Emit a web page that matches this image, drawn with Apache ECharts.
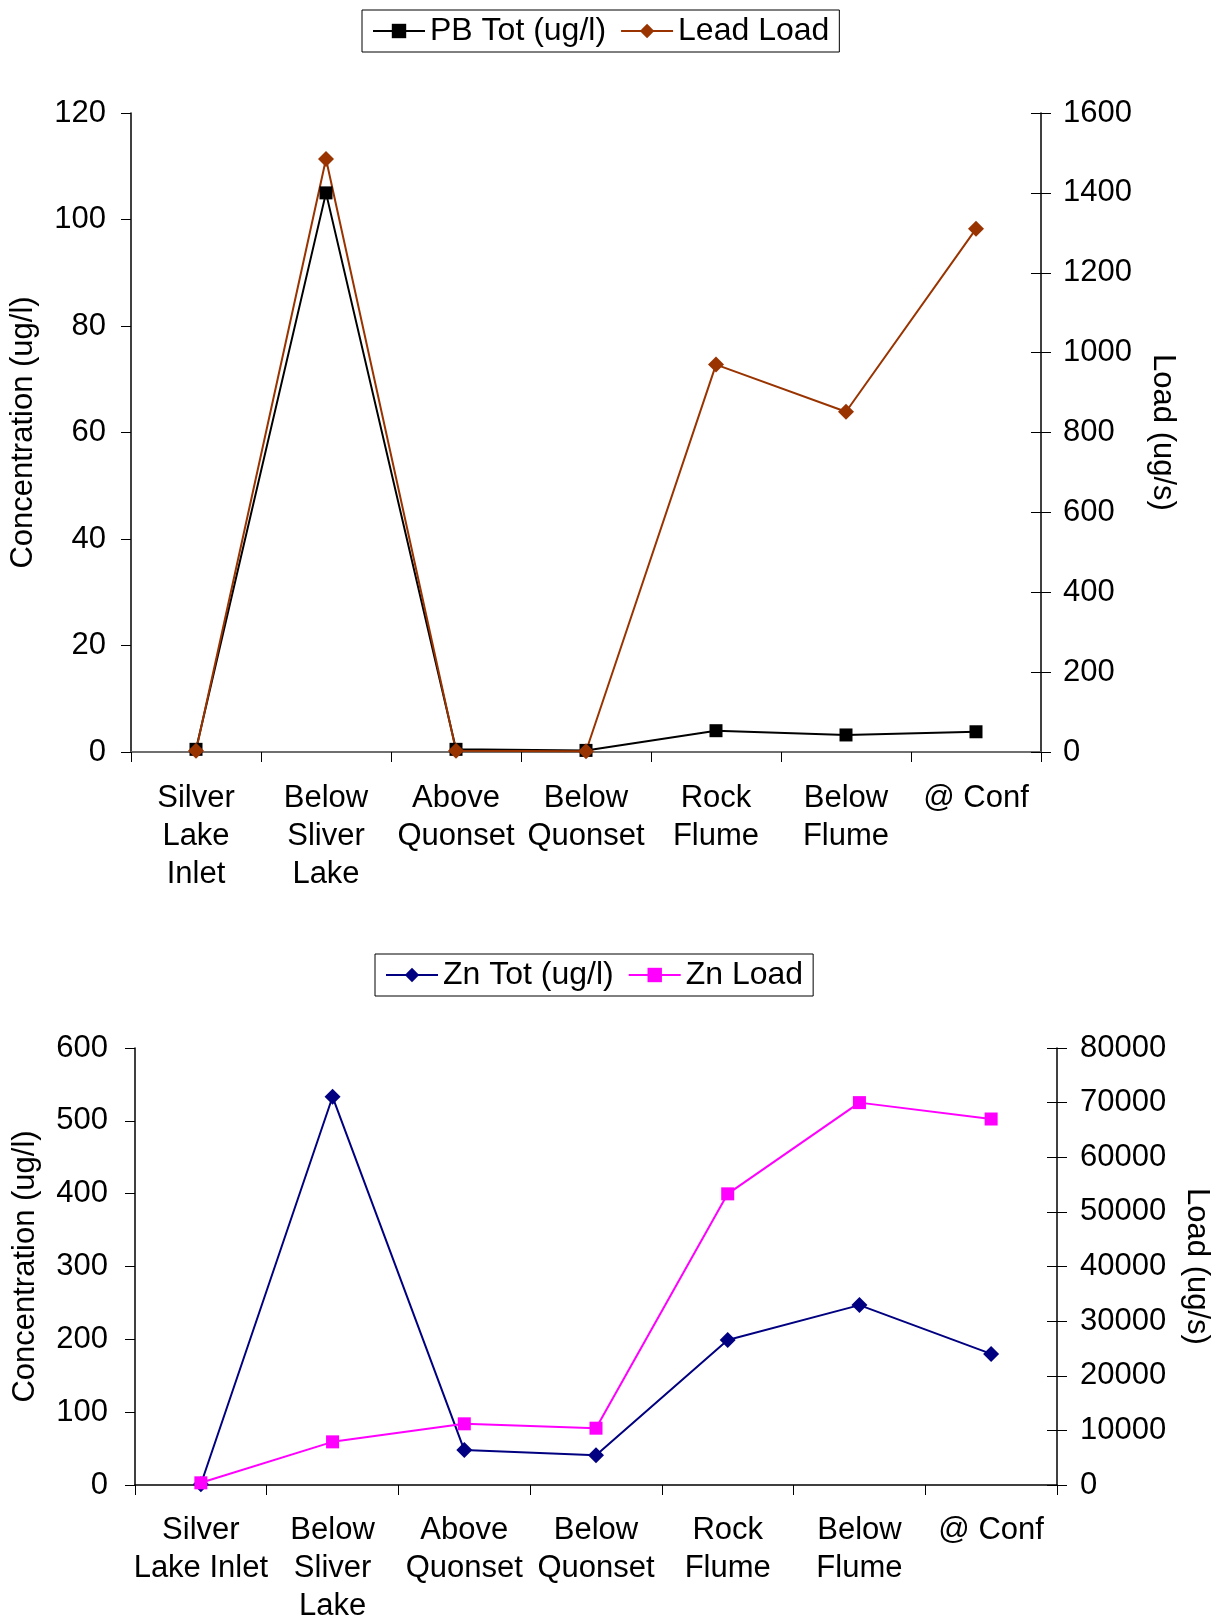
<!DOCTYPE html>
<html>
<head>
<meta charset="utf-8">
<script src="https://cdn.jsdelivr.net/npm/echarts@6/dist/echarts.min.js"></script>
<style>
  html, body { margin: 0; padding: 0; background: #fff; }
  #chart { width: 1213px; height: 1622px; }
</style>
</head>
<body>
<div id="chart"></div>
<script>
// ---- Data ----
const categoriesTop = ['Silver\nLake\nInlet', 'Below\nSliver\nLake', 'Above\nQuonset', 'Below\nQuonset', 'Rock\nFlume', 'Below\nFlume', '@ Conf'];
const categoriesBottom = ['Silver\nLake Inlet', 'Below\nSliver\nLake', 'Above\nQuonset', 'Below\nQuonset', 'Rock\nFlume', 'Below\nFlume', '@ Conf'];

const pbTot    = [0.5, 105, 0.5, 0.3, 4.0, 3.2, 3.8];
const leadLoad = [3, 1485, 3, 2, 970, 852, 1310];

const znTot  = [1, 533, 48, 41, 199, 247, 180];
const znLoad = [400, 7900, 11200, 10400, 53300, 70000, 67000];

const concTicksTop = [0, 20, 40, 60, 80, 100, 120];
const loadTicksTop = [0, 200, 400, 600, 800, 1000, 1200, 1400, 1600];
const concTicksBottom = [0, 100, 200, 300, 400, 500, 600];
const loadTicksBottom = [0, 10000, 20000, 30000, 40000, 50000, 60000, 70000, 80000];

// ---- Chart ----
const FONT = "'Liberation Sans', Arial, sans-serif";
const FS = 31;
const chart = echarts.init(document.getElementById('chart'), null, { renderer: 'canvas' });

function range(t) { return { min: t[0], max: t[t.length - 1], interval: t[1] - t[0] }; }

function catAxis(gridIndex, data, margin) {
  return {
    type: 'category', gridIndex, data, boundaryGap: true,
    axisLine: { show: true, lineStyle: { color: '#000', width: 1.5 } },
    axisTick: { show: true, length: 10, lineStyle: { color: '#000', width: 1 } },
    axisLabel: { interval: 0, color: '#000', fontSize: FS, fontFamily: FONT, lineHeight: 38, margin },
    splitLine: { show: false }
  };
}

function valAxis(gridIndex, ticks, pos, name, gap, rot, margin) {
  return Object.assign({
    type: 'value', gridIndex, position: pos,
    axisLine: { show: true, onZero: false, lineStyle: { color: '#000', width: 1.5 } },
    axisTick: { show: true, length: 10, lineStyle: { color: '#000', width: 1 } },
    axisLabel: { color: '#000', fontSize: FS, fontFamily: FONT, margin, formatter: v => String(v) },
    splitLine: { show: false },
    name, nameLocation: 'middle', nameGap: gap, nameRotate: rot,
    nameTextStyle: { color: '#000', fontSize: FS, fontFamily: FONT }
  }, range(ticks));
}

function innerTickAxis(gridIndex, ticks) {
  return Object.assign({
    type: 'value', gridIndex, position: 'right',
    axisLine: { show: false },
    axisTick: { show: true, inside: true, length: 10, lineStyle: { color: '#000', width: 1 } },
    axisLabel: { show: false },
    splitLine: { show: false }
  }, range(ticks));
}

function legendCfg(data, left, top) {
  return {
    data, left, top,
    borderColor: '#000', borderWidth: 1,
    padding: [4, 10], itemGap: 14, itemWidth: 52, itemHeight: 18,
    textStyle: { color: '#000', fontSize: 32, fontFamily: FONT, lineHeight: 34 }
  };
}

const option = {
  animation: false,
  backgroundColor: '#fff',
  textStyle: { fontFamily: FONT },
  legend: [
    legendCfg(['PB Tot (ug/l)', 'Lead Load'], 362, 10),
    legendCfg(['Zn Tot (ug/l)', 'Zn Load'], 375, 954)
  ],
  grid: [
    { left: 131, top: 113, width: 910, height: 639, containLabel: false, outerBoundsMode: 'none' },
    { left: 135, top: 1048, width: 922, height: 437, containLabel: false, outerBoundsMode: 'none' }
  ],
  xAxis: [
    catAxis(0, categoriesTop, 27),
    {
      type: 'category', gridIndex: 0, position: 'top', data: categoriesTop,
      axisLine: { show: true, lineStyle: { color: '#808080', width: 1.5 } },
      axisTick: { show: false }, axisLabel: { show: false }, splitLine: { show: false }
    },
    catAxis(1, categoriesBottom, 26)
  ],
  yAxis: [
    valAxis(0, concTicksTop, 'left', 'Concentration (ug/l)', 92, 90, 25),
    valAxis(0, loadTicksTop, 'right', 'Load (ug/s)', 106, -90, 22),
    innerTickAxis(0, loadTicksTop),
    valAxis(1, concTicksBottom, 'left', 'Concentration (ug/l)', 94, 90, 27),
    valAxis(1, loadTicksBottom, 'right', 'Load (ug/s)', 124, -90, 23),
    innerTickAxis(1, loadTicksBottom)
  ],
  series: [
    {
      name: 'PB Tot (ug/l)', type: 'line', xAxisIndex: 0, yAxisIndex: 0, data: pbTot,
      color: '#000000', symbol: 'rect', symbolSize: 13, showAllSymbol: true,
      lineStyle: { color: '#000000', width: 2 }, itemStyle: { color: '#000000' }
    },
    {
      name: 'Lead Load', type: 'line', xAxisIndex: 0, yAxisIndex: 1, data: leadLoad,
      color: '#993300', symbol: 'diamond', symbolSize: 16, showAllSymbol: true,
      lineStyle: { color: '#993300', width: 2 }, itemStyle: { color: '#993300' }
    },
    {
      name: 'Zn Tot (ug/l)', type: 'line', xAxisIndex: 2, yAxisIndex: 3, data: znTot,
      color: '#000080', symbol: 'diamond', symbolSize: 16, showAllSymbol: true,
      lineStyle: { color: '#000080', width: 2 }, itemStyle: { color: '#000080' }
    },
    {
      name: 'Zn Load', type: 'line', xAxisIndex: 2, yAxisIndex: 4, data: znLoad,
      color: '#FF00FF', symbol: 'rect', symbolSize: 13, showAllSymbol: true,
      lineStyle: { color: '#FF00FF', width: 2 }, itemStyle: { color: '#FF00FF' }
    }
  ]
};
chart.setOption(option);
</script>
</body>
</html>
